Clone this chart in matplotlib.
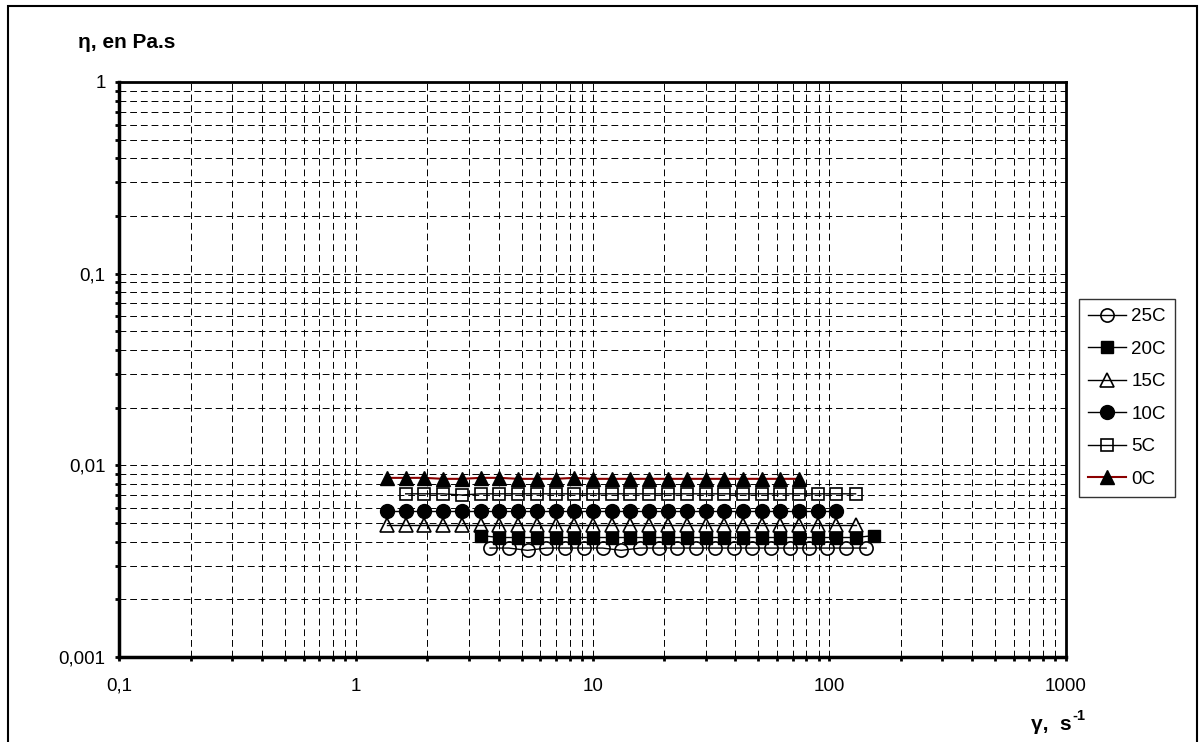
import matplotlib
matplotlib.use('Agg')
import matplotlib.pyplot as plt
from matplotlib.patches import Rectangle
from matplotlib.ticker import LogLocator, FixedFormatter, FixedLocator, NullFormatter

plt.rcParams['font.family'] = ['Liberation Sans', 'DejaVu Sans']

# shear rate (1/s) and viscosity (Pa.s) per temperature
x_0c = [1.35, 1.62, 1.94, 2.33, 2.80, 3.36, 4.03, 4.84, 5.80, 6.97, 8.36, 10.0,
        12.0, 14.4, 17.3, 20.8, 25.0, 30.0, 35.9, 43.1, 51.8, 62.1, 74.5]
y_0c = [0.0086, 0.0086, 0.0086, 0.0085, 0.0085, 0.0086, 0.0086, 0.0085, 0.0085, 0.0085, 0.0086, 0.0085,
        0.0085, 0.0085, 0.0085, 0.0085, 0.0085, 0.0085, 0.0085, 0.0085, 0.0085, 0.0085, 0.0085]

x_5c = [1.62, 1.94, 2.33, 2.80, 3.36, 4.03, 4.84, 5.80, 6.97, 8.36, 10.0, 12.0, 14.4,
        17.3, 20.8, 25.0, 30.0, 35.9, 43.1, 51.8, 62.1, 74.5, 89.4, 107, 129]
y_5c = [0.0071, 0.0071, 0.0071, 0.0070, 0.0071, 0.0071, 0.0071, 0.0071, 0.0071, 0.0071, 0.0071, 0.0071, 0.0071,
        0.0071, 0.0071, 0.0071, 0.0071, 0.0071, 0.0071, 0.0071, 0.0071, 0.0071, 0.0071, 0.0071, 0.0071]

x_10c = [1.35, 1.62, 1.94, 2.33, 2.80, 3.36, 4.03, 4.84, 5.80, 6.97, 8.36, 10.0, 12.0,
         14.4, 17.3, 20.8, 25.0, 30.0, 35.9, 43.1, 51.8, 62.1, 74.5, 89.4, 107]
y_10c = [0.0058, 0.0058, 0.0058, 0.0058, 0.0058, 0.0058, 0.0058, 0.0058, 0.0058, 0.0058, 0.0058, 0.0058, 0.0058,
         0.0058, 0.0058, 0.0058, 0.0058, 0.0058, 0.0058, 0.0058, 0.0058, 0.0058, 0.0058, 0.0058, 0.0058]

x_15c = [1.35, 1.62, 1.94, 2.33, 2.80, 3.36, 4.03, 4.84, 5.80, 6.97, 8.36, 10.0, 12.0,
         14.4, 17.3, 20.8, 25.0, 30.0, 35.9, 43.1, 51.8, 62.1, 74.5, 89.4, 107, 129]
y_15c = [0.0049, 0.0049, 0.0049, 0.0049, 0.0049, 0.0049, 0.0049, 0.0049, 0.0049, 0.0049, 0.0049, 0.0049, 0.0049,
         0.0049, 0.0049, 0.0049, 0.0049, 0.0049, 0.0049, 0.0049, 0.0049, 0.0049, 0.0049, 0.0049, 0.0049, 0.0049]

x_20c = [3.36, 4.03, 4.84, 5.80, 6.97, 8.36, 10.0, 12.0, 14.4, 17.3, 20.8,
         25.0, 30.0, 35.9, 43.1, 51.8, 62.1, 74.5, 89.4, 107, 129, 155]
y_20c = [0.0043, 0.0042, 0.0042, 0.0042, 0.0042, 0.0042, 0.0042, 0.0042, 0.0042, 0.0042, 0.0042,
         0.0042, 0.0042, 0.0042, 0.0042, 0.0042, 0.0042, 0.0042, 0.0042, 0.0042, 0.0042, 0.0043]

x_25c = [3.68, 4.42, 5.30, 6.36, 7.63, 9.16, 11.0, 13.2, 15.8, 19.0, 22.8,
         27.4, 32.8, 39.4, 47.3, 56.7, 68.1, 81.7, 98.0, 118, 143]
y_25c = [0.0037, 0.0037, 0.0036, 0.0037, 0.0037, 0.0037, 0.0037, 0.0036, 0.0037, 0.0037, 0.0037,
         0.0037, 0.0037, 0.0037, 0.0037, 0.0037, 0.0037, 0.0037, 0.0037, 0.0037, 0.0037]

x_ticks = [0.1, 1, 10, 100, 1000]
x_labels = ['0,1', '1', '10', '100', '1000']
y_ticks = [0.001, 0.01, 0.1, 1]
y_labels = ['0,001', '0,01', '0,1', '1']

fig = plt.figure(figsize=(12.02, 7.42), dpi=100)
ax = fig.add_axes([0.0994, 0.1146, 0.7875, 0.7749])

dash = (0, (7, 4))
ax.grid(True, which='both', color='black', lw=0.7, ls=dash)
ax.set_axisbelow(True)

ax.plot(x_25c, y_25c, color='black', lw=1, marker='o', ms=9.5, mfc='none', mec='black', mew=1.2, label='25C')
ax.plot(x_20c, y_20c, color='black', lw=1, marker='s', ms=9, mfc='black', mec='black', label='20C')
ax.plot(x_15c, y_15c, color='black', lw=1, marker='^', ms=10, mfc='none', mec='black', mew=1.2, label='15C')
ax.plot(x_10c, y_10c, color='black', lw=1, marker='o', ms=10, mfc='black', mec='black', label='10C')
ax.plot(x_5c, y_5c, color='black', lw=1, marker='s', ms=9, mfc='none', mec='black', mew=1.2, label='5C')
ax.plot(x_0c, y_0c, color='#8B0000', lw=1.5, marker='^', ms=10.5, mfc='black', mec='black', label='0C')

ax.set_xscale('log')
ax.set_yscale('log')
ax.set_xlim(0.1, 1000)
ax.set_ylim(0.001, 1)

ax.xaxis.set_major_locator(FixedLocator(x_ticks))
ax.xaxis.set_major_formatter(FixedFormatter(x_labels))
ax.yaxis.set_major_locator(FixedLocator(y_ticks))
ax.yaxis.set_major_formatter(FixedFormatter(y_labels))
ax.xaxis.set_minor_locator(LogLocator(base=10, subs=range(2, 10), numticks=20))
ax.yaxis.set_minor_locator(LogLocator(base=10, subs=range(2, 10), numticks=20))
ax.xaxis.set_minor_formatter(NullFormatter())
ax.yaxis.set_minor_formatter(NullFormatter())

ax.tick_params(axis='both', which='both', direction='out', length=3, width=2, color='black', labelsize=13.5)
ax.tick_params(axis='x', which='major', pad=12)
ax.tick_params(axis='y', which='major', pad=7)

for side in ['left', 'bottom']:
    ax.spines[side].set_linewidth(2.5)
for side in ['top', 'right']:
    ax.spines[side].set_linewidth(2)

fig.text(0.065, 1 - 43 / 742, 'η, en Pa.s', fontsize=15, fontweight='bold', va='center', ha='left')
fig.text(1072 / 1202, 1 - 725 / 742, 'γ,  s', fontsize=15, fontweight='bold', va='center', ha='right')
fig.text(1072 / 1202, 1 - 716 / 742, '-1', fontsize=10.5, fontweight='bold', va='center', ha='left')

leg = ax.legend(loc='center left', bbox_to_anchor=(1079 / 1202, 1 - 398 / 742),
                bbox_transform=fig.transFigure, fontsize=13.5, frameon=True, fancybox=False,
                edgecolor='black', handlelength=2.0, labelspacing=0.82, borderpad=0.5,
                handletextpad=0.3, borderaxespad=0)
leg.get_frame().set_linewidth(1)

fig.patches.append(Rectangle((8 / 1202, -0.05), 1189 / 1202, 1.05 - 6 / 742, transform=fig.transFigure,
                             fill=False, edgecolor='black', lw=1.5))

fig.savefig('out.png', dpi=100)
